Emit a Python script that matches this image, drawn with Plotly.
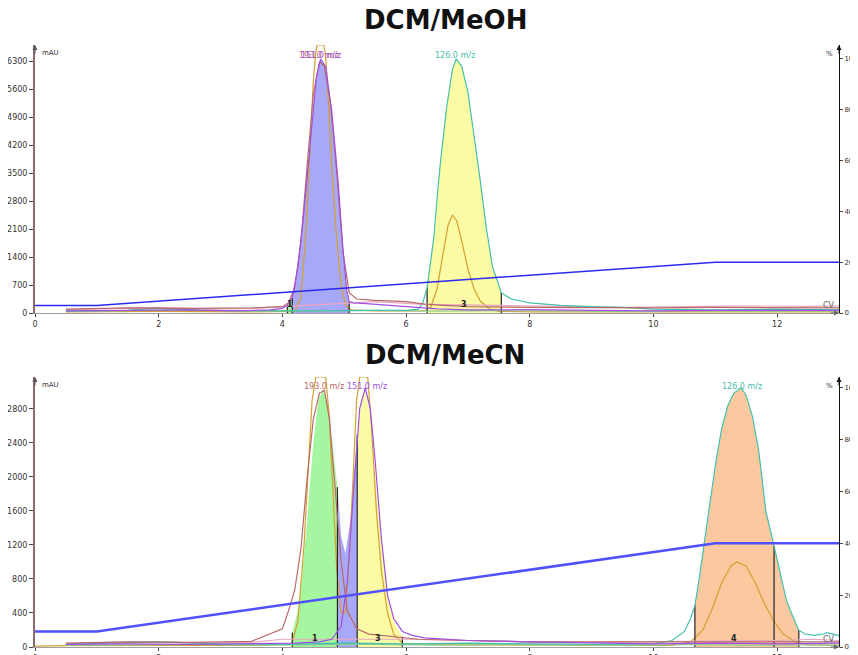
import plotly.graph_objects as go

# ---------------- data ----------------
x_ticks = [0, 2, 4, 6, 8, 10, 12]
top_mau_ticks = [0, 700, 1400, 2100, 2800, 3500, 4200, 4900, 5600, 6300]
bot_mau_ticks = [0, 400, 800, 1200, 1600, 2000, 2400, 2800]
pct_ticks = [0, 20, 40, 60, 80, 100]

# ---- DCM/MeOH (top) ----
top_grad_cv = [0, 1, 11, 13]
top_grad_pct = [3, 3, 20, 20]

# UV absorbance (filled by fraction)
top_uv_cv = [0.5, 2.0, 3.8, 4.0, 4.08, 4.16, 4.25, 4.35, 4.45, 4.55, 4.62, 4.7, 4.8, 4.9, 4.98, 5.04, 5.08, 5.15, 5.5, 6.0, 6.2, 6.27, 6.34, 6.45, 6.5, 6.55, 6.65, 6.75, 6.81, 6.9, 7.0, 7.1, 7.2, 7.3, 7.4, 7.54, 7.7, 8.0, 9.0]
top_uv_mau = [40, 60, 75, 115, 190, 380, 1140, 2540, 4320, 5900, 6350, 6160, 5020, 3300, 1590, 570, 285, 250, 220, 60, 95, 250, 635, 1900, 2860, 3680, 5080, 6100, 6350, 6160, 5520, 4450, 3300, 2100, 1140, 510, 350, 250, 150]

top_purple_cv = [0.5, 1.5, 2.5, 3.2, 3.8, 4.0, 4.08, 4.16, 4.25, 4.35, 4.45, 4.55, 4.62, 4.7, 4.8, 4.9, 4.98, 5.04, 5.08, 5.15, 5.3, 5.6, 6.0, 6.5, 7.0, 8.0, 9.0, 10.0, 11.0, 12.0, 13.0]
top_purple_pct = [0.8, 1.0, 1.2, 0.8, 1.2, 1.8, 3.0, 6, 18, 40, 68, 93, 100, 97, 79, 52, 25, 9, 4.5, 4, 3.8, 3.2, 2.4, 1.6, 1.2, 1.3, 1.0, 0.8, 1.0, 0.9, 1.0]

top_brown_cv = [0.5, 1.5, 2.5, 3.5, 4.0, 4.1, 4.2, 4.3, 4.4, 4.5, 4.6, 4.68, 4.78, 4.88, 4.98, 5.08, 5.2, 5.5, 6.0, 6.3, 6.6, 7.0, 8.0, 9.0, 10.0, 11.0, 12.0, 13.0]
top_brown_pct = [1.5, 2.0, 1.8, 2.0, 2.5, 4, 10, 28, 58, 86, 99, 97, 82, 55, 24, 8, 5.5, 5, 4.5, 3.5, 3, 2.5, 2.2, 2.0, 2.0, 2.2, 2.0, 2.0]

top_teal_cv = [0.5, 1.5, 1.9, 2.2, 2.6, 3.5, 4.5, 5.5, 6.0, 6.2, 6.27, 6.34, 6.45, 6.5, 6.55, 6.65, 6.75, 6.81, 6.9, 7.0, 7.1, 7.2, 7.3, 7.4, 7.54, 7.7, 8.0, 8.5, 9.0, 9.5, 10.0, 11.0, 12.0, 13.0]
top_teal_pct = [0.8, 1.0, 1.8, 1.6, 1.0, 0.8, 0.8, 1.0, 1.0, 1.5, 4, 10, 30, 45, 58, 80, 96, 100, 97, 87, 70, 52, 33, 18, 8, 5.5, 4, 3, 2.5, 2.2, 1.5, 1.2, 1.5, 1.2]

top_gold_cv = [0.5, 2.0, 3.5, 4.2, 4.3, 4.38, 4.45, 4.5, 4.54, 4.56, 4.67, 4.7, 4.73, 4.8, 4.88, 4.95, 5.02, 5.1, 5.5, 6.0, 6.3, 6.4, 6.5, 6.6, 6.68, 6.75, 6.82, 6.9, 7.0, 7.1, 7.2, 7.35, 7.5, 8.0, 10.0, 13.0]
top_gold_mau = [30, 40, 30, 40, 400, 2000, 4200, 5800, 6500, 6700, 6700, 6400, 5700, 3600, 1800, 700, 200, 80, 50, 40, 50, 150, 600, 1500, 2200, 2450, 2300, 1800, 1100, 600, 300, 100, 40, 30, 30, 30]

top_pink_cv = [0.5, 1.2, 2.0, 2.8, 3.5, 4.0, 5.5, 6.2, 7.6, 8.5, 9.5, 10.5, 11.5, 12.5, 13.0]
top_pink_pct = [1.2, 1.8, 2.2, 1.5, 1.8, 2.5, 4.5, 3.5, 3.0, 2.5, 2.2, 2.5, 2.8, 2.6, 2.8]
top_green_cv = [0.5, 1.5, 2.5, 3.5, 4.5, 5.5, 6.5, 7.5, 8.5, 9.5, 10.5, 11.5, 12.5, 13.0]
top_green_pct = [0.6, 0.8, 1.2, 0.7, 0.8, 1.0, 0.7, 0.9, 0.8, 0.6, 0.9, 0.7, 0.8, 0.7]

top_fractions = [(4.08, 4.16, "#a6f5a0"), (4.16, 5.08, "#a8a8f8"), (6.34, 7.54, "#fbfaa5")]
top_frac_labels = [("1", 4.12), ("3", 6.94)]

# ---- DCM/MeCN (bottom) ----
bot_grad_cv = [0, 1, 11, 13]
bot_grad_pct = [6, 6, 40, 40]

bot_uv_cv = [0.5, 2.0, 3.5, 3.9, 4.05, 4.16, 4.24, 4.3, 4.4, 4.5, 4.58, 4.66, 4.74, 4.82, 4.89, 4.95, 5.02, 5.1, 5.16, 5.21, 5.28, 5.34, 5.42, 5.5, 5.6, 5.7, 5.8, 5.94, 6.1, 6.5, 7.5, 9.0, 10.3, 10.5, 10.6, 10.67, 10.75, 10.88, 11.0, 11.1, 11.2, 11.3, 11.42, 11.5, 11.6, 11.7, 11.82, 11.95, 12.05, 12.15, 12.25, 12.3, 12.35, 12.45, 12.6]
bot_uv_mau = [20, 30, 25, 40, 80, 170, 400, 700, 1500, 2400, 2900, 3035, 2850, 2300, 1880, 1300, 1100, 1500, 2100, 2500, 2900, 3030, 2700, 2000, 1300, 600, 300, 120, 60, 30, 20, 20, 75, 180, 335, 490, 850, 1520, 2130, 2560, 2830, 2985, 3046, 2955, 2710, 2315, 1585, 1190, 855, 550, 365, 275, 200, 150, 140]

bot_brown_cv = [0.5, 1.5, 2.5, 3.5, 4.0, 4.1, 4.2, 4.3, 4.4, 4.5, 4.6, 4.68, 4.76, 4.85, 4.95, 5.05, 5.2, 5.4, 5.8, 6.2, 7.0, 8.0, 9.0, 10.0, 11.0, 12.0, 13.0]
bot_brown_pct = [1.5, 2.0, 1.8, 2.2, 7, 14, 22, 38, 65, 88, 98, 99, 88, 62, 33, 14, 7, 5, 4, 3, 2.5, 2, 2, 2, 2, 1.8, 2]

bot_purple_cv = [0.5, 1.5, 2.5, 3.5, 4.2, 4.6, 4.8, 4.95, 5.05, 5.15, 5.25, 5.34, 5.42, 5.5, 5.6, 5.7, 5.8, 5.94, 6.1, 6.3, 6.6, 7.0, 8.0, 9.0, 10.0, 11.0, 12.0, 13.0]
bot_purple_pct = [1.0, 1.2, 1.0, 1.2, 1.5, 2, 3, 8, 25, 60, 92, 100, 92, 72, 42, 20, 11, 6, 4.5, 3.5, 3, 2.5, 2, 1.5, 1.2, 1.5, 1.2, 1.5]

bot_teal_cv = [0.5, 1.5, 2.0, 3.0, 4.0, 5.0, 6.0, 7.0, 8.0, 9.0, 10.0, 10.3, 10.5, 10.6, 10.67, 10.75, 10.88, 11.0, 11.1, 11.2, 11.3, 11.42, 11.5, 11.6, 11.7, 11.82, 11.95, 12.05, 12.15, 12.25, 12.3, 12.35, 12.45, 12.6, 12.75, 12.8, 12.9, 13.0]
bot_teal_pct = [1.0, 1.5, 2.0, 1.2, 1.0, 1.5, 1.2, 1.5, 1.2, 1.0, 1.2, 2.5, 6, 11, 16, 28, 50, 70, 84, 93, 98, 100, 97, 89, 76, 52, 39, 28, 18, 12, 9, 6.5, 5, 4.5, 5, 5.5, 5, 4.5]

bot_gold_cv = [0.0, 0.5, 2.0, 3.5, 4.15, 4.25, 4.35, 4.42, 4.48, 4.54, 4.7, 4.76, 4.82, 4.88, 4.95, 5.02, 5.08, 5.14, 5.2, 5.25, 5.38, 5.44, 5.52, 5.6, 5.7, 5.8, 5.95, 7.0, 9.0, 10.3, 10.6, 10.8, 10.95, 11.1, 11.25, 11.35, 11.5, 11.65, 11.8, 11.95, 12.1, 12.3, 12.5, 13.0]
bot_gold_mau = [10, 15, 20, 20, 30, 300, 1200, 2200, 2900, 3176, 3176, 2700, 1800, 900, 400, 400, 1000, 2000, 2900, 3176, 3176, 2600, 1600, 900, 400, 150, 40, 25, 20, 20, 60, 200, 450, 750, 950, 1000, 950, 750, 500, 300, 150, 60, 25, 20]

bot_pink_cv = [0.5, 1.2, 2.0, 2.8, 3.5, 4.0, 6.0, 7.0, 8.0, 9.0, 10.0, 11.0, 12.0, 12.6, 13.0]
bot_pink_pct = [1.2, 1.8, 2.0, 1.5, 1.8, 3.0, 3.0, 2.5, 2.0, 1.8, 2.0, 2.2, 2.5, 3.0, 2.5]
bot_green_cv = [0.5, 1.5, 2.5, 3.5, 4.5, 5.5, 6.5, 7.5, 8.5, 9.5, 10.5, 11.5, 12.5, 13.0]
bot_green_pct = [0.6, 0.8, 1.0, 0.7, 0.8, 1.0, 0.7, 0.9, 0.8, 0.6, 0.9, 0.7, 0.8, 0.7]

bot_fractions = [(4.16, 4.89, "#a6f5a0"), (4.89, 5.21, "#a8a8f8"), (5.21, 5.94, "#fbfaa5"),
                 (10.67, 11.95, "#fbc8a0"), (11.95, 12.35, "#fbc8a0")]
bot_frac_labels = [("1", 4.52), ("3", 5.55), ("4", 11.31)]

# ---------------- helpers ----------------
FONT = "DejaVu Sans"
C_PURPLE = "#a050e0"
C_BROWN = "#b86a6a"
C_TEAL = "#45c0aa"
C_GOLD = "#d4a030"
C_PINK = "#e8a8c0"
C_GREEN = "#90cc90"

# page offset of the plot div (default body margin) and figure size
OFF = 8
W, H = 858 - OFF, 655 - OFF


def px_x(p):
    return (p - OFF) / W


def px_y(p):
    return 1 - (p - OFF) / H


def seg(xs, ys, a, b):
    px, py = [a], [0]
    for x, y in zip(xs, ys):
        if a <= x <= b:
            px.append(x)
            py.append(y)
    px.append(b)
    py.append(0)
    return px, py


fig = go.Figure()


def add_fills(xs, ys, fracs, xa, ya):
    for a, b, col in fracs:
        px, py = seg(xs, ys, a, b)
        fig.add_trace(go.Scatter(x=px, y=py, fill="toself", fillcolor=col, mode="lines",
                                 line=dict(width=0), xaxis=xa, yaxis=ya, hoverinfo="skip"))


def add_frac_lines(xs, ys, fracs, xa, ya):
    bounds = sorted(set([f[0] for f in fracs] + [f[1] for f in fracs]))
    for b in bounds:
        v = ys[xs.index(b)]
        fig.add_trace(go.Scatter(x=[b, b], y=[0, v], mode="lines", line=dict(color="#222", width=1.2),
                                 xaxis=xa, yaxis=ya, hoverinfo="skip"))


def line(xs, ys, col, xa, ya, w=1.2):
    fig.add_trace(go.Scatter(x=xs, y=ys, mode="lines", line=dict(color=col, width=w),
                             xaxis=xa, yaxis=ya, hoverinfo="skip"))


# ---- top (mAU on base axis y, % on overlay y2) ----
add_fills(top_uv_cv, top_uv_mau, top_fractions, "x", "y")
line(top_gold_cv, top_gold_mau, C_GOLD, "x", "y")
add_frac_lines(top_uv_cv, top_uv_mau, top_fractions, "x", "y")
line(top_green_cv, top_green_pct, C_GREEN, "x", "y2")
line(top_pink_cv, top_pink_pct, C_PINK, "x", "y2")
line(top_teal_cv, top_teal_pct, C_TEAL, "x", "y2")
line(top_brown_cv, top_brown_pct, C_BROWN, "x", "y2")
line(top_purple_cv, top_purple_pct, C_PURPLE, "x", "y2")
line(top_grad_cv, top_grad_pct, "#2a2af0", "x", "y2", w=1.5)

# ---- bottom (mAU on base axis y3, % on overlay y4) ----
add_fills(bot_uv_cv, bot_uv_mau, bot_fractions, "x2", "y3")
line(bot_gold_cv, bot_gold_mau, C_GOLD, "x2", "y3")
add_frac_lines(bot_uv_cv, bot_uv_mau, bot_fractions, "x2", "y3")
line(bot_green_cv, bot_green_pct, C_GREEN, "x2", "y4")
line(bot_pink_cv, bot_pink_pct, C_PINK, "x2", "y4")
line(bot_teal_cv, bot_teal_pct, C_TEAL, "x2", "y4")
line(bot_brown_cv, bot_brown_pct, C_BROWN, "x2", "y4")
line(bot_purple_cv, bot_purple_pct, C_PURPLE, "x2", "y4")
line(bot_grad_cv, bot_grad_pct, "#5050ff", "x2", "y4", w=2.5)

# ---------------- layout ----------------
XDOM = [px_x(35), px_x(839)]
TOP_DOM = [px_y(313), px_y(45)]
BOT_DOM = [px_y(647), px_y(377)]
TOP_MAU_MAX = 6700
TOP_PCT_MAX = 105.5
BOT_MAU_MAX = 3176
BOT_PCT_MAX = 104.2

tickfont = dict(family=FONT, size=8, color="#333")


def xax(anchor):
    return dict(domain=XDOM, range=[0, 13], tickvals=x_ticks, ticks="outside", ticklen=3,
                tickcolor="#444", showline=True, linecolor="#a0a0a0", linewidth=1,
                showgrid=False, zeroline=False, tickfont=tickfont, anchor=anchor)


def yleft(dom, rmax, tv, anchor):
    return dict(domain=dom, range=[0, rmax], tickvals=tv, ticks="outside", ticklen=4,
                tickcolor="#444", showline=True, linecolor="#8a6a6a", linewidth=2,
                showgrid=False, zeroline=False, tickfont=tickfont, anchor=anchor)


def yright(rmax, over, anchor):
    return dict(range=[0, rmax], tickvals=pct_ticks, ticks="outside", ticklen=3,
                tickcolor="#444", showline=True, linecolor="#111", linewidth=1,
                showgrid=False, zeroline=False, tickfont=dict(family=FONT, size=7, color="#333"),
                overlaying=over, side="right", anchor=anchor)


annotations = []


def txt(text, x, y, xref, yref, size=8, color="#333", bold=False, **kw):
    t = "<b>%s</b>" % text if bold else text
    annotations.append(dict(text=t, x=x, y=y, xref=xref, yref=yref, showarrow=False,
                            font=dict(family=FONT, size=size, color=color), **kw))


def arrow(x, y, xref, yref, ax, ay, col="#444"):
    annotations.append(dict(text="", x=x, y=y, xref=xref, yref=yref, ax=ax, ay=ay,
                            showarrow=True, arrowhead=2, arrowsize=1, arrowwidth=1,
                            arrowcolor=col))


# titles
txt("DCM/MeOH", px_x(445), px_y(20), "paper", "paper", size=26, color="#111", bold=True,
    yanchor="middle", xanchor="center")
txt("DCM/MeCN", px_x(445), px_y(355), "paper", "paper", size=26, color="#111", bold=True,
    yanchor="middle", xanchor="center")

# axis arrows & unit labels
for xr, yl, yr, mx, pmx in [("x", "y", "y2", TOP_MAU_MAX, TOP_PCT_MAX),
                            ("x2", "y3", "y4", BOT_MAU_MAX, BOT_PCT_MAX)]:
    arrow(0, mx, xr, yl, 0, 10, "#555")
    arrow(13, pmx, xr, yr, 0, 10, "#111")
    arrow(13, 0, xr, yr, -10, 0, "#666")
    txt("mAU", 0, mx, xr, yl, size=7, xanchor="left", yanchor="top", xshift=5, yshift=-2)
    txt("%", 13, pmx, xr, yr, size=7, xanchor="right", yanchor="top", xshift=-4, yshift=-3)
    txt("CV", 13, 0, xr, yr, size=8, color="#666", xanchor="right", yanchor="bottom",
        xshift=-2, yshift=1)

# peak labels
txt("193.0 m/z", 4.60, 6440, "x", "y", color=C_BROWN)
txt("151.0 m/z", 4.63, 6440, "x", "y", color=C_PURPLE)
txt("126.0 m/z", 6.79, 6440, "x", "y", color=C_TEAL)
txt("193.0 m/z", 4.67, 3070, "x2", "y3", color=C_BROWN)
txt("151.0 m/z", 5.36, 3070, "x2", "y3", color=C_PURPLE)
txt("126.0 m/z", 11.43, 3060, "x2", "y3", color=C_TEAL)

# fraction numbers
for lab, xv in top_frac_labels:
    txt(lab, xv, 0, "x", "y", size=8, color="#222", bold=True, yanchor="bottom", yshift=2)
for lab, xv in bot_frac_labels:
    txt(lab, xv, 0, "x2", "y3", size=8, color="#222", bold=True, yanchor="bottom", yshift=2)

fig.update_layout(
    width=W, height=H,
    margin=dict(l=0, r=0, t=0, b=0, autoexpand=False),
    paper_bgcolor="white", plot_bgcolor="white",
    showlegend=False,
    xaxis=xax("y"),
    yaxis=yleft(TOP_DOM, TOP_MAU_MAX, top_mau_ticks, "x"),
    yaxis2=yright(TOP_PCT_MAX, "y", "x"),
    xaxis2=xax("y3"),
    yaxis3=yleft(BOT_DOM, BOT_MAU_MAX, bot_mau_ticks, "x2"),
    yaxis4=yright(BOT_PCT_MAX, "y3", "x2"),
    annotations=annotations,
)

fig.write_html("out.html")
